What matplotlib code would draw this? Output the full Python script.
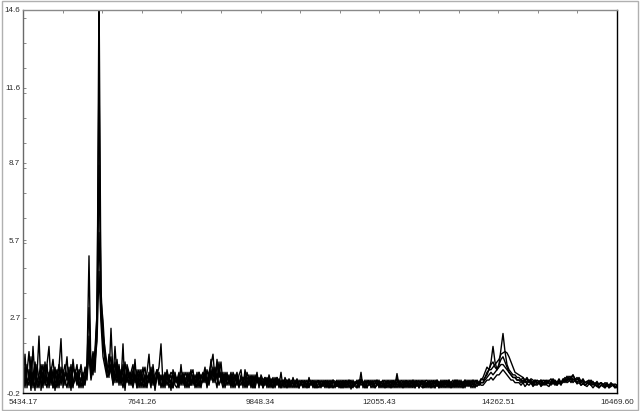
import numpy as np
import matplotlib.pyplot as plt
from matplotlib.patches import Rectangle
from matplotlib.ticker import AutoMinorLocator

# Axis ranges and tick labels as printed on the chart
x_ticks = [5434.17, 7641.26, 9848.34, 12055.43, 14262.51, 16469.60]
y_ticks = [-0.2, 2.7, 5.7, 8.7, 11.6, 14.6]

# Spectra, one value every ~37 x-units
trace_a = [
    0.2, 1.3, 0.0, 0.7, -0.1, 1.6, 0.3, 0.5, 2.0, -0.1,
    0.6, 0.2, 0.9, 1.6, 0.1, 0.7, -0.1, 0.5, 0.8, 1.9,
    0.0, 0.6, 0.3, 0.8, -0.1, 1.1, 0.4, 0.2, 0.7, 0.6,
    0.0, 0.5, 0.9, 5.1, 0.4, 1.2, 0.6, 2.2, 15.5, 3.4,
    2.6, 1.3, 0.8, 0.4, 2.3, 0.5, 1.0, 0.3, 0.9, 0.2,
    1.7, -0.1, 0.8, 0.4, 0.6, 0.1, 1.1, 0.0, 0.5, 0.7,
    0.0, 0.3, 0.6, 1.3, 0.1, 0.6, -0.1, 0.5, 0.8, 1.7,
    0.1, 0.6, 0.3, 0.5, -0.1, 0.7, 0.4, 0.2, 0.0, 0.9,
    0.1, 0.6, 0.4, 0.0, 0.5, 0.7, 0.0, 0.3, 0.6, 0.1,
    0.4, 0.8, 0.2, 0.6, 0.9, 1.3, 0.3, 0.9, 0.5, 1.0,
    0.1, 0.6, 0.3, 0.5, 0.0, 0.6, 0.4, 0.1, 0.5, 0.7,
    0.0, 0.7, 0.3, 0.5, 0.0, 0.4, 0.2, 0.6, 0.0, 0.5,
    0.3, 0.4, 0.0, 0.5, 0.2, 0.4, 0.0, 0.3, 0.1, 0.6,
    0.0, 0.4, 0.2, 0.3, 0.0, 0.4, 0.1, 0.35, 0.0, 0.3,
    0.2, 0.3, 0.0, 0.4, 0.1, 0.25, 0.0, 0.3, 0.15, 0.0,
    0.3, 0.1, 0.25, 0.0, 0.2, 0.3, 0.0, 0.2, 0.1, 0.3,
    0.0, 0.25, 0.1, 0.3, -0.05, 0.2, 0.15, 0.3, 0.1, 0.6,
    0.0, 0.2, 0.25, 0.1, 0.3, 0.0, 0.2, 0.3, 0.05, 0.2,
    0.25, 0.0, 0.3, 0.15, 0.0, 0.25, 0.1, 0.55, 0.1, 0.2,
    0.0, 0.3, 0.15, 0.2, 0.0, 0.3, 0.1, 0.25, 0.0, 0.3,
    0.15, 0.2, 0.0, 0.3, 0.1, 0.25, 0.0, 0.3, 0.2, 0.05,
    0.3, 0.1, 0.25, 0.0, 0.2, 0.3, 0.05, 0.3, 0.1, 0.2,
    0.1, 0.3, 0.15, 0.25, 0.0, 0.3, 0.2, 0.3, 0.2, 0.35,
    0.3, 0.4, 0.5, 0.7, 1.0, 1.6, 1.0, 0.7, 0.9, 1.5,
    2.1, 1.4, 0.9, 0.7, 0.6, 0.5, 0.5, 0.4, 0.4, 0.3,
    0.4, 0.25, 0.35, 0.2, 0.3, 0.15, 0.3, 0.2, 0.25, 0.3,
    0.15, 0.3, 0.2, 0.25, 0.35, 0.15, 0.3, 0.2, 0.35, 0.2,
    0.3, 0.4, 0.3, 0.45, 0.35, 0.5, 0.3, 0.4, 0.3, 0.25,
    0.35, 0.2, 0.25, 0.3, 0.15, 0.25, 0.1, 0.2, 0.15, 0.2,
    0.1, 0.2, 0.15, 0.1, 0.2, 0.1, 0.15, 0.1,
]

trace_b = [
    1.1, 0.1, 0.6, 1.4, 0.2, 0.5, 0.9, 0.0, 0.3, 0.6,
    0.0, 1.0, 0.2, 0.5, 0.8, 0.0, 0.4, 0.7, 0.0, 0.8,
    0.3, 0.5, 1.2, 0.0, 0.6, 0.2, 0.5, 0.9, 0.1, 0.3,
    0.6, 0.2, 1.0, 3.1, 0.7, 1.4, 0.9, 3.0, 12.4, 2.8,
    1.9, 1.0, 0.6, 0.9, 1.2, 0.3, 1.6, 0.4, 0.8, 0.1,
    0.9, 0.3, 0.7, 0.1, 0.6, 0.9, 0.2, 0.5, 0.7, 0.0,
    0.5, 0.8, 0.2, 0.3, 0.8, 0.1, 0.5, 0.7, 0.2, 0.4,
    0.5, 0.0, 0.7, 0.3, 0.5, 0.0, 0.6, 0.2, 0.5, 0.3,
    0.6, 0.1, 0.5, 0.3, 0.7, 0.1, 0.5, 0.2, 0.6, 0.4,
    0.6, 0.2, 0.7, 0.3, 1.1, 0.4, 0.8, 0.3, 1.0, 0.2,
    0.5, 0.2, 0.6, 0.1, 0.5, 0.3, 0.4, 0.6, 0.1, 0.4,
    0.4, 0.1, 0.6, 0.3, 0.4, 0.0, 0.5, 0.2, 0.4, 0.1,
    0.3, 0.1, 0.4, 0.2, 0.3, 0.0, 0.4, 0.2, 0.3, 0.0,
    0.3, 0.1, 0.3, 0.0, 0.3, 0.2, 0.1, 0.3, 0.0, 0.2,
    0.1, 0.25, 0.0, 0.3, 0.2, 0.05, 0.3, 0.0, 0.25, 0.1,
    0.2, 0.0, 0.3, 0.15, 0.0, 0.25, 0.2, 0.05, 0.3, 0.0,
    0.2, 0.1, 0.3, 0.0, 0.25, 0.1, 0.2, 0.0, 0.3, 0.25,
    0.1, 0.3, 0.0, 0.2, 0.1, 0.3, 0.0, 0.2, 0.15, 0.25,
    0.0, 0.2, 0.15, 0.3, 0.0, 0.25, 0.1, 0.4, 0.0, 0.2,
    0.1, 0.25, 0.0, 0.3, 0.15, 0.2, 0.0, 0.25, 0.1, 0.2,
    0.0, 0.3, 0.1, 0.2, 0.0, 0.25, 0.15, 0.3, 0.0, 0.2,
    0.1, 0.25, 0.0, 0.3, 0.1, 0.2, 0.0, 0.3, 0.15, 0.2,
    0.0, 0.25, 0.1, 0.3, 0.1, 0.2, 0.0, 0.25, 0.15, 0.2,
    0.2, 0.4, 0.6, 0.7, 0.7, 0.8, 0.9, 1.0, 1.1, 1.3,
    1.35, 1.4, 1.35, 1.2, 1.0, 0.8, 0.6, 0.55, 0.5, 0.45,
    0.4, 0.3, 0.4, 0.25, 0.35, 0.3, 0.2, 0.3, 0.25, 0.15,
    0.3, 0.25, 0.15, 0.3, 0.2, 0.35, 0.25, 0.15, 0.3, 0.2,
    0.35, 0.3, 0.45, 0.3, 0.4, 0.5, 0.35, 0.3, 0.4, 0.25,
    0.3, 0.2, 0.25, 0.15, 0.3, 0.2, 0.15, 0.25, 0.1, 0.2,
    0.15, 0.1, 0.2, 0.05, 0.15, 0.1, 0.05, 0.1,
]

trace_c = [
    0.0, 0.6, 0.3, 0.1, 1.2, 0.0, 0.7, 0.2, 0.5, 0.9,
    0.4, 0.3, 0.0, 0.6, 0.2, 0.4, 0.8, 0.1, 0.5, 0.2,
    0.5, 0.9, 0.4, 0.2, 0.9, 0.1, 0.3, 0.6, 0.0, 0.4,
    0.2, 0.8, 0.3, 1.6, 0.5, 0.9, 1.2, 2.5, 8.6, 3.8,
    2.1, 1.5, 0.9, 0.5, 0.7, 0.9, 0.2, 1.1, 0.3, 0.6,
    0.2, 1.0, 0.3, 0.5, 0.1, 0.6, 0.3, 0.7, 0.0, 0.4,
    0.2, 0.5, 0.1, 0.4, 0.0, 0.9, 0.2, 0.6, 0.1, 0.4,
    0.3, 0.5, 0.1, 0.4, 0.6, 0.5, 0.2, 0.4, 0.1, 0.5,
    0.2, 0.4, 0.1, 0.6, 0.2, 0.4, 0.1, 0.6, 0.0, 0.5,
    0.2, 0.5, 0.1, 0.6, 0.3, 0.8, 0.2, 1.1, 0.4, 0.6,
    0.2, 0.5, 0.1, 0.4, 0.2, 0.5, 0.0, 0.4, 0.1, 0.5,
    0.2, 0.4, 0.0, 0.3, 0.1, 0.5, 0.0, 0.4, 0.1, 0.3,
    0.0, 0.3, 0.1, 0.4, 0.0, 0.3, 0.1, 0.4, 0.0, 0.3,
    0.1, 0.3, 0.0, 0.3, 0.1, 0.2, 0.0, 0.3, 0.1, 0.2,
    0.0, 0.15, 0.3, 0.05, 0.2, 0.3, 0.1, 0.0, 0.25, 0.15,
    0.05, 0.3, 0.2, 0.0, 0.15, 0.3, 0.25, 0.05, 0.2, 0.0,
    0.25, 0.0, 0.15, 0.3, 0.1, 0.0, 0.25, 0.15, 0.3, 0.1,
    0.2, 0.0, 0.3, 0.1, 0.25, 0.05, 0.15, 0.3, 0.0, 0.2,
    0.3, 0.1, 0.0, 0.25, 0.2, 0.0, 0.3, 0.15, 0.05, 0.3,
    0.2, 0.0, 0.25, 0.1, 0.3, 0.05, 0.2, 0.3, 0.0, 0.15,
    0.3, 0.05, 0.2, 0.0, 0.3, 0.15, 0.0, 0.25, 0.1, 0.3,
    0.0, 0.2, 0.3, 0.05, 0.25, 0.0, 0.3, 0.1, 0.2, 0.0,
    0.2, 0.3, 0.05, 0.25, 0.15, 0.0, 0.3, 0.2, 0.1, 0.3,
    0.4, 0.6, 0.8, 0.7, 0.9, 1.0, 0.8, 0.7, 0.9, 1.1,
    1.2, 1.0, 0.8, 0.6, 0.5, 0.4, 0.4, 0.3, 0.3, 0.3,
    0.2, 0.3, 0.15, 0.3, 0.2, 0.1, 0.3, 0.2, 0.15, 0.3,
    0.1, 0.25, 0.3, 0.15, 0.2, 0.3, 0.1, 0.25, 0.2, 0.1,
    0.3, 0.2, 0.35, 0.3, 0.45, 0.3, 0.35, 0.2, 0.3, 0.2,
    0.25, 0.1, 0.2, 0.15, 0.25, 0.1, 0.2, 0.05, 0.15, 0.2,
    0.1, 0.05, 0.15, 0.0, 0.1, 0.15, 0.05, 0.0,
]

trace_d = [
    0.5, 0.0, 0.9, 0.3, 0.6, 0.1, 1.0, 0.4, 0.0, 0.7,
    0.2, 0.5, 0.9, 0.0, 0.6, 1.1, 0.3, 0.0, 0.6, 0.3,
    0.7, 0.1, 0.5, 0.6, 0.0, 0.8, 0.5, 0.1, 0.4, 0.9,
    0.3, 0.1, 0.7, 2.0, 0.9, 0.5, 1.5, 2.8, 6.0, 3.0,
    1.6, 1.2, 0.5, 1.3, 0.6, 0.2, 0.7, 0.9, 0.1, 0.7,
    0.5, 0.0, 0.9, 0.6, 0.2, 0.7, 0.4, 0.0, 0.6, 0.3,
    0.8, 0.2, 0.0, 0.6, 0.3, 0.4, 0.0, 0.7, 0.3, 0.5,
    0.0, 0.4, 0.6, 0.2, 0.3, 0.0, 0.5, 0.3, 0.6, 0.1,
    0.4, 0.0, 0.6, 0.3, 0.1, 0.5, 0.3, 0.0, 0.5, 0.2,
    0.3, 0.6, 0.0, 0.4, 0.7, 0.2, 0.6, 0.5, 0.1, 0.4,
    0.6, 0.0, 0.4, 0.3, 0.6, 0.1, 0.5, 0.3, 0.0, 0.4,
    0.2, 0.5, 0.1, 0.4, 0.2, 0.0, 0.4, 0.3, 0.1, 0.4,
    0.1, 0.4, 0.2, 0.0, 0.35, 0.2, 0.1, 0.4, 0.2, 0.0,
    0.3, 0.2, 0.0, 0.35, 0.1, 0.3, 0.2, 0.0, 0.3, 0.1,
    0.3, 0.0, 0.2, 0.1, 0.3, 0.0, 0.25, 0.1, 0.0, 0.3,
    0.1, 0.2, 0.0, 0.3, 0.1, 0.0, 0.2, 0.3, 0.0, 0.15,
    0.3, 0.15, 0.0, 0.2, 0.3, 0.05, 0.1, 0.25, 0.0, 0.3,
    0.15, 0.0, 0.2, 0.3, 0.0, 0.15, 0.3, 0.1, 0.2, 0.0,
    0.2, 0.3, 0.05, 0.1, 0.3, 0.15, 0.0, 0.2, 0.3, 0.0,
    0.3, 0.1, 0.2, 0.0, 0.2, 0.3, 0.0, 0.15, 0.3, 0.05,
    0.0, 0.25, 0.3, 0.1, 0.2, 0.0, 0.3, 0.15, 0.0, 0.25,
    0.2, 0.0, 0.15, 0.3, 0.0, 0.2, 0.25, 0.0, 0.3, 0.1,
    0.25, 0.0, 0.3, 0.1, 0.2, 0.3, 0.1, 0.2, 0.1, 0.2,
    0.2, 0.3, 0.4, 0.5, 0.6, 0.5, 0.6, 0.7, 0.8, 0.9,
    0.9, 0.8, 0.7, 0.6, 0.5, 0.4, 0.4, 0.3, 0.3, 0.2,
    0.3, 0.2, 0.25, 0.3, 0.15, 0.25, 0.1, 0.2, 0.25, 0.1,
    0.2, 0.1, 0.25, 0.2, 0.1, 0.3, 0.2, 0.1, 0.25, 0.2,
    0.2, 0.3, 0.25, 0.35, 0.2, 0.35, 0.25, 0.2, 0.3, 0.1,
    0.2, 0.1, 0.15, 0.25, 0.1, 0.15, 0.1, 0.2, 0.0, 0.1,
    0.15, 0.0, 0.1, 0.05, 0.15, 0.1, 0.0, 0.1,
]

trace_e = [
    -0.1, 0.8, 0.2, 0.4, 0.0, 0.6, -0.1, 0.9, 0.3, 0.5,
    0.9, 0.1, 0.4, 0.2, 0.7, 0.0, 0.5, 0.3, 0.9, 0.1,
    0.6, 0.3, 0.0, 0.5, 0.4, 0.0, 0.7, 0.3, 0.5, 0.0,
    0.5, 0.3, 0.6, 1.2, 0.3, 0.8, 1.0, 1.8, 4.5, 2.5,
    1.2, 0.8, 0.4, 0.6, 0.9, 0.1, 0.5, 0.2, 0.6, 0.4,
    0.0, 0.5, 0.2, 0.6, 0.3, 0.0, 0.5, 0.4, 0.2, 0.6,
    0.4, 0.0, 0.5, 0.2, 0.6, 0.3, 0.1, 0.4, 0.6, 0.0,
    0.4, 0.2, 0.5, 0.0, 0.3, 0.5, 0.1, 0.0, 0.4, 0.2,
    0.5, 0.3, 0.0, 0.4, 0.1, 0.5, 0.2, 0.4, 0.3, 0.0,
    0.5, 0.3, 0.4, 0.1, 0.6, 0.5, 0.4, 0.0, 0.7, 0.3,
    0.0, 0.3, 0.5, 0.2, 0.4, 0.0, 0.3, 0.5, 0.2, 0.1,
    0.4, 0.0, 0.3, 0.1, 0.5, 0.2, 0.0, 0.4, 0.2, 0.3,
    0.0, 0.2, 0.35, 0.1, 0.2, 0.0, 0.3, 0.1, 0.35, 0.1,
    0.2, 0.0, 0.3, 0.1, 0.2, 0.0, 0.3, 0.15, 0.0, 0.25,
    0.05, 0.2, 0.1, 0.0, 0.25, 0.1, 0.0, 0.2, 0.3, 0.05,
    0.2, 0.25, 0.05, 0.1, 0.3, 0.0, 0.1, 0.25, 0.05, 0.2,
    0.0, 0.3, 0.2, 0.1, 0.0, 0.3, 0.05, 0.0, 0.2, 0.35,
    0.25, 0.1, 0.0, 0.25, 0.15, 0.2, 0.0, 0.1, 0.3, 0.05,
    0.15, 0.0, 0.25, 0.0, 0.15, 0.3, 0.2, 0.0, 0.2, 0.1,
    0.0, 0.2, 0.3, 0.05, 0.1, 0.0, 0.3, 0.05, 0.2, 0.25,
    0.1, 0.0, 0.2, 0.25, 0.0, 0.3, 0.2, 0.05, 0.25, 0.0,
    0.15, 0.3, 0.05, 0.2, 0.0, 0.1, 0.3, 0.2, 0.0, 0.3,
    0.0, 0.15, 0.2, 0.05, 0.3, 0.1, 0.15, 0.05, 0.2, 0.1,
    0.1, 0.2, 0.3, 0.3, 0.4, 0.3, 0.4, 0.5, 0.5, 0.6,
    0.7, 0.6, 0.5, 0.4, 0.3, 0.3, 0.2, 0.2, 0.2, 0.1,
    0.2, 0.05, 0.15, 0.1, 0.2, 0.05, 0.15, 0.1, 0.2, 0.05,
    0.15, 0.2, 0.1, 0.05, 0.2, 0.15, 0.25, 0.1, 0.2, 0.15,
    0.25, 0.3, 0.2, 0.25, 0.35, 0.2, 0.3, 0.15, 0.2, 0.1,
    0.15, 0.1, 0.05, 0.15, 0.1, 0.0, 0.1, 0.05, 0.0, 0.1,
    0.05, 0.0, 0.1, 0.0, 0.05, 0.1, 0.0, 0.05,
]

x_all = np.linspace(x_ticks[0], x_ticks[-1], len(trace_a))

fig = plt.figure(figsize=(6.4, 4.11), dpi=100)
fig.patch.set_facecolor('white')
ax = fig.add_axes([23 / 640, 18 / 411, 594 / 640, 383 / 411])

for tr in [trace_e, trace_d, trace_c, trace_b, trace_a]:
    ax.plot(x_all[:len(tr)], tr, color='black', lw=1.0)

ax.set_xlim(x_ticks[0], x_ticks[-1])
ax.set_ylim(y_ticks[0], y_ticks[-1])
ax.set_xticks(x_ticks)
ax.set_xticklabels(['%.2f' % v for v in x_ticks])
ax.set_yticks(y_ticks)
ax.set_yticklabels(['%.1f' % v for v in y_ticks])
ax.xaxis.set_minor_locator(AutoMinorLocator(3))
ax.yaxis.set_minor_locator(AutoMinorLocator(3))

# little inward ticks only along the top and left edges
ax.tick_params(which='both', direction='in', top=True, bottom=False,
               left=True, right=False, labelbottom=True, labelleft=True,
               color='#777777', width=0.6, length=2.5)
ax.tick_params(axis='x', pad=4)
ax.tick_params(axis='y', pad=2)
for lab in ax.get_xticklabels() + ax.get_yticklabels():
    lab.set_fontfamily('Liberation Sans')
    lab.set_fontsize(5.8)
    lab.set_color('#2a2a2a')

# sunken-frame look: light top/left, dark bottom/right
ax.spines['top'].set_color('#8a8a8a')
ax.spines['left'].set_color('#6a6a6a')
ax.spines['right'].set_color('black')
ax.spines['bottom'].set_color('black')
for s in ax.spines.values():
    s.set_linewidth(1.0)

fig.add_artist(Rectangle((1.5 / 640, 1.5 / 411), 636 / 640, 408 / 411,
                         transform=fig.transFigure, fill=False,
                         edgecolor='#b0b0b0', lw=1.0))

fig.savefig('out.png', dpi=100)
